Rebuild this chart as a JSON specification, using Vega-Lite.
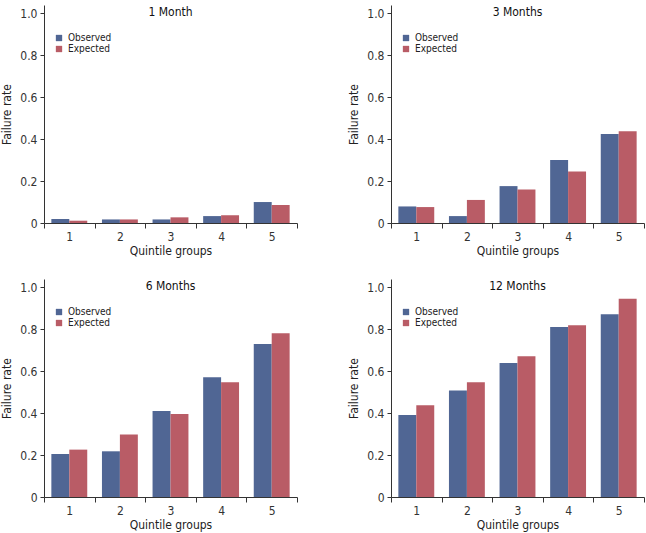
{
  "$schema": "https://vega.github.io/schema/vega-lite/v6.json",
  "padding": {"left": 0, "top": 5, "right": 0, "bottom": 8},
  "background": "white",
  "data": {"values": [
    {"period": "1 Month", "quintile": "1", "group": "Observed", "rate": 0.019},
    {"period": "1 Month", "quintile": "1", "group": "Expected", "rate": 0.011},
    {"period": "1 Month", "quintile": "2", "group": "Observed", "rate": 0.017},
    {"period": "1 Month", "quintile": "2", "group": "Expected", "rate": 0.017},
    {"period": "1 Month", "quintile": "3", "group": "Observed", "rate": 0.017},
    {"period": "1 Month", "quintile": "3", "group": "Expected", "rate": 0.027},
    {"period": "1 Month", "quintile": "4", "group": "Observed", "rate": 0.033},
    {"period": "1 Month", "quintile": "4", "group": "Expected", "rate": 0.037},
    {"period": "1 Month", "quintile": "5", "group": "Observed", "rate": 0.100},
    {"period": "1 Month", "quintile": "5", "group": "Expected", "rate": 0.086},
    {"period": "3 Months", "quintile": "1", "group": "Observed", "rate": 0.079},
    {"period": "3 Months", "quintile": "1", "group": "Expected", "rate": 0.076},
    {"period": "3 Months", "quintile": "2", "group": "Observed", "rate": 0.033},
    {"period": "3 Months", "quintile": "2", "group": "Expected", "rate": 0.110},
    {"period": "3 Months", "quintile": "3", "group": "Observed", "rate": 0.176},
    {"period": "3 Months", "quintile": "3", "group": "Expected", "rate": 0.160},
    {"period": "3 Months", "quintile": "4", "group": "Observed", "rate": 0.300},
    {"period": "3 Months", "quintile": "4", "group": "Expected", "rate": 0.246},
    {"period": "3 Months", "quintile": "5", "group": "Observed", "rate": 0.424},
    {"period": "3 Months", "quintile": "5", "group": "Expected", "rate": 0.438},
    {"period": "6 Months", "quintile": "1", "group": "Observed", "rate": 0.205},
    {"period": "6 Months", "quintile": "1", "group": "Expected", "rate": 0.226},
    {"period": "6 Months", "quintile": "2", "group": "Observed", "rate": 0.218},
    {"period": "6 Months", "quintile": "2", "group": "Expected", "rate": 0.298},
    {"period": "6 Months", "quintile": "3", "group": "Observed", "rate": 0.410},
    {"period": "6 Months", "quintile": "3", "group": "Expected", "rate": 0.396},
    {"period": "6 Months", "quintile": "4", "group": "Observed", "rate": 0.571},
    {"period": "6 Months", "quintile": "4", "group": "Expected", "rate": 0.547},
    {"period": "6 Months", "quintile": "5", "group": "Observed", "rate": 0.730},
    {"period": "6 Months", "quintile": "5", "group": "Expected", "rate": 0.781},
    {"period": "12 Months", "quintile": "1", "group": "Observed", "rate": 0.391},
    {"period": "12 Months", "quintile": "1", "group": "Expected", "rate": 0.438},
    {"period": "12 Months", "quintile": "2", "group": "Observed", "rate": 0.508},
    {"period": "12 Months", "quintile": "2", "group": "Expected", "rate": 0.547},
    {"period": "12 Months", "quintile": "3", "group": "Observed", "rate": 0.639},
    {"period": "12 Months", "quintile": "3", "group": "Expected", "rate": 0.672},
    {"period": "12 Months", "quintile": "4", "group": "Observed", "rate": 0.811},
    {"period": "12 Months", "quintile": "4", "group": "Expected", "rate": 0.819},
    {"period": "12 Months", "quintile": "5", "group": "Observed", "rate": 0.872},
    {"period": "12 Months", "quintile": "5", "group": "Expected", "rate": 0.946}
  ]},
  "columns": 2,
  "spacing": {"column": 49, "row": 23},
  "resolve": {"legend": {"color": "independent"}, "scale": {"color": "independent"}},
  "concat": [
    {
      "title": {"text": "1 Month"},
      "transform": [{"filter": "datum.period == '1 Month'"}],
      "width": 253, "height": 218,
      "mark": {"type": "bar"},
      "encoding": {
        "x": {"field": "quintile", "type": "ordinal", "title": "Quintile groups", "scale": {"paddingInner": 0, "paddingOuter": 0}, "axis": {"labelAngle": 0, "tickBand": "extent"}},
        "xOffset": {"field": "group", "type": "nominal", "sort": ["Observed", "Expected"], "scale": {"paddingInner": 0, "paddingOuter": 0.41}},
        "y": {"field": "rate", "type": "quantitative", "title": "Failure rate", "scale": {"domain": [0, 1.04], "nice": false}, "axis": {"values": [0, 0.2, 0.4, 0.6, 0.8, 1.0], "labelExpr": "datum.value == 0 ? '0' : format(datum.value, '.1f')"}},
        "color": {"field": "group", "type": "nominal", "sort": ["Observed", "Expected"], "scale": {"domain": ["Observed", "Expected"], "range": ["#506694", "#b95c66"]}, "legend": {"title": null, "orient": "none", "legendX": 10, "legendY": 28}}
      }
    },
    {
      "title": {"text": "3 Months"},
      "transform": [{"filter": "datum.period == '3 Months'"}],
      "width": 253, "height": 218,
      "mark": {"type": "bar"},
      "encoding": {
        "x": {"field": "quintile", "type": "ordinal", "title": "Quintile groups", "scale": {"paddingInner": 0, "paddingOuter": 0}, "axis": {"labelAngle": 0, "tickBand": "extent"}},
        "xOffset": {"field": "group", "type": "nominal", "sort": ["Observed", "Expected"], "scale": {"paddingInner": 0, "paddingOuter": 0.41}},
        "y": {"field": "rate", "type": "quantitative", "title": "Failure rate", "scale": {"domain": [0, 1.04], "nice": false}, "axis": {"values": [0, 0.2, 0.4, 0.6, 0.8, 1.0], "labelExpr": "datum.value == 0 ? '0' : format(datum.value, '.1f')"}},
        "color": {"field": "group", "type": "nominal", "sort": ["Observed", "Expected"], "scale": {"domain": ["Observed", "Expected"], "range": ["#506694", "#b95c66"]}, "legend": {"title": null, "orient": "none", "legendX": 10, "legendY": 28}}
      }
    },
    {
      "title": {"text": "6 Months"},
      "transform": [{"filter": "datum.period == '6 Months'"}],
      "width": 253, "height": 218,
      "mark": {"type": "bar"},
      "encoding": {
        "x": {"field": "quintile", "type": "ordinal", "title": "Quintile groups", "scale": {"paddingInner": 0, "paddingOuter": 0}, "axis": {"labelAngle": 0, "tickBand": "extent"}},
        "xOffset": {"field": "group", "type": "nominal", "sort": ["Observed", "Expected"], "scale": {"paddingInner": 0, "paddingOuter": 0.41}},
        "y": {"field": "rate", "type": "quantitative", "title": "Failure rate", "scale": {"domain": [0, 1.04], "nice": false}, "axis": {"values": [0, 0.2, 0.4, 0.6, 0.8, 1.0], "labelExpr": "datum.value == 0 ? '0' : format(datum.value, '.1f')"}},
        "color": {"field": "group", "type": "nominal", "sort": ["Observed", "Expected"], "scale": {"domain": ["Observed", "Expected"], "range": ["#506694", "#b95c66"]}, "legend": {"title": null, "orient": "none", "legendX": 10, "legendY": 28}}
      }
    },
    {
      "title": {"text": "12 Months"},
      "transform": [{"filter": "datum.period == '12 Months'"}],
      "width": 253, "height": 218,
      "mark": {"type": "bar"},
      "encoding": {
        "x": {"field": "quintile", "type": "ordinal", "title": "Quintile groups", "scale": {"paddingInner": 0, "paddingOuter": 0}, "axis": {"labelAngle": 0, "tickBand": "extent"}},
        "xOffset": {"field": "group", "type": "nominal", "sort": ["Observed", "Expected"], "scale": {"paddingInner": 0, "paddingOuter": 0.41}},
        "y": {"field": "rate", "type": "quantitative", "title": "Failure rate", "scale": {"domain": [0, 1.04], "nice": false}, "axis": {"values": [0, 0.2, 0.4, 0.6, 0.8, 1.0], "labelExpr": "datum.value == 0 ? '0' : format(datum.value, '.1f')"}},
        "color": {"field": "group", "type": "nominal", "sort": ["Observed", "Expected"], "scale": {"domain": ["Observed", "Expected"], "range": ["#506694", "#b95c66"]}, "legend": {"title": null, "orient": "none", "legendX": 10, "legendY": 28}}
      }
    }
  ],
  "config": {
    "font": "'DejaVu Sans Condensed', 'Open Sans', Roboto, sans-serif",
    "view": {"stroke": null},
    "title": {"fontSize": 12, "fontWeight": "normal", "color": "#111", "offset": -14, "anchor": "middle"},
    "axis": {"grid": false, "domainColor": "#333", "tickColor": "#333", "labelColor": "#333", "titleColor": "#222", "labelFontSize": 12, "titleFontSize": 12, "titleFontWeight": "normal", "tickSize": 4, "labelPadding": 3},
    "axisY": {"titlePadding": 6},
    "axisX": {"titlePadding": 3, "tickSize": 5},
    "legend": {"symbolType": "square", "symbolSize": 40, "labelFontSize": 10, "rowPadding": 1, "symbolStrokeWidth": 0, "labelColor": "#222"}
  }
}
